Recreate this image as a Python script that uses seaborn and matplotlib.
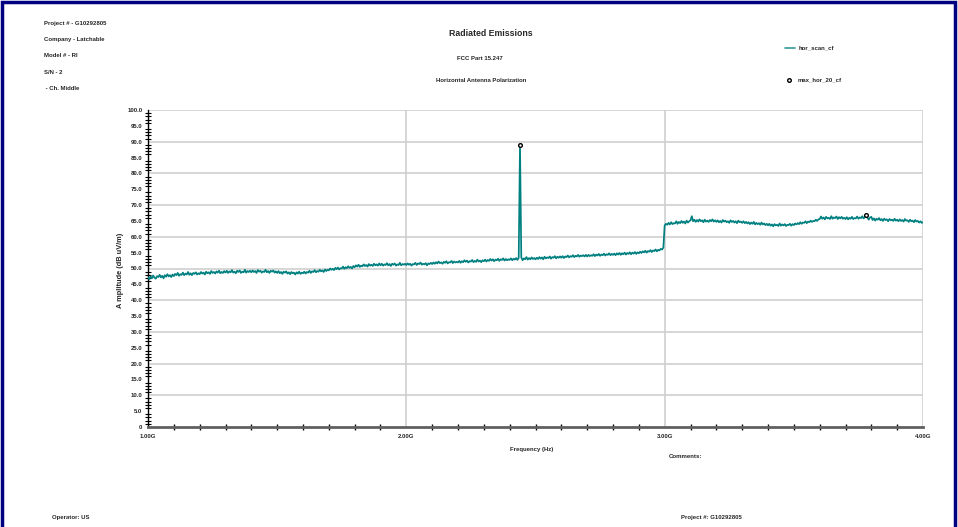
import numpy as np
import pandas as pd
import matplotlib
matplotlib.use("Agg")
import matplotlib.pyplot as plt
from matplotlib.patches import Rectangle
from matplotlib.lines import Line2D
from matplotlib.ticker import MultipleLocator, FixedLocator
import seaborn as sns

# ---- sweep data: hor_scan_cf, 5 MHz steps from 1.000 GHz to 4.000 GHz (dBuV/m) ----
# one row per 100 MHz
scan_start_ghz = 1.00
scan_step_ghz = 0.005
scan_amp = [
    47.2, 46.6, 47.5, 46.9, 47.8, 47.1, 46.8, 47.6, 47.3, 48.0, 47.2, 47.7, 46.9, 47.9, 47.4, 48.2, 47.5, 47.9, 47.3, 48.1,
    47.6, 48.3, 47.9, 48.6, 47.7, 48.2, 48.0, 48.7, 47.9, 48.4, 48.1, 48.9, 48.0, 48.5, 47.9, 48.6, 48.3, 48.8, 48.1, 48.5,
    48.2, 48.9, 48.4, 48.7, 48.1, 49.0, 48.5, 48.8, 48.3, 49.2, 48.6, 48.9, 48.4, 49.1, 48.7, 49.3, 48.5, 48.9, 48.6, 49.2,
    48.7, 49.3, 48.6, 49.1, 48.8, 49.5, 48.7, 49.0, 48.5, 49.3, 48.9, 49.4, 48.6, 49.0, 48.8, 49.6, 48.7, 49.2, 48.9, 49.3,
    48.8, 49.4, 48.9, 49.2, 48.6, 49.5, 49.0, 49.3, 48.7, 49.1, 48.9, 49.6, 48.8, 49.2, 48.6, 49.3, 49.0, 49.4, 48.7, 49.1,
    48.6, 49.2, 48.5, 48.9, 48.3, 49.0, 48.7, 49.1, 48.4, 48.8, 48.2, 48.9, 48.5, 48.7, 48.1, 48.8, 48.4, 49.0, 48.3, 48.7,
    48.5, 49.0, 48.4, 48.9, 48.7, 49.3, 48.6, 49.1, 48.9, 49.5, 48.8, 49.2, 49.0, 49.6, 49.1, 49.4, 48.9, 49.7, 49.2, 49.6,
    49.4, 50.0, 49.6, 49.9, 49.5, 50.2, 49.8, 50.3, 49.7, 50.1, 50.0, 50.6, 49.9, 50.4, 50.1, 50.7, 50.2, 50.5, 50.0, 50.8,
    50.4, 51.0, 50.6, 51.2, 50.5, 50.9, 50.7, 51.3, 50.8, 51.1, 50.6, 51.4, 50.9, 51.2, 50.8, 51.5, 51.0, 51.3, 50.9, 51.6,
    51.0, 51.5, 50.9, 51.3, 51.1, 51.7, 51.0, 51.4, 50.8, 51.5, 51.2, 51.6, 50.9, 51.3, 51.1, 51.8, 51.0, 51.4, 51.2, 51.5,
    51.1, 51.6, 51.2, 51.5, 50.9, 51.4, 51.3, 51.8, 51.1, 51.6, 51.4, 51.9, 51.2, 51.5, 51.3, 51.7, 51.0, 51.6, 51.4, 51.8,
    51.4, 51.9, 51.5, 52.0, 51.6, 52.2, 51.7, 51.9, 51.5, 52.1, 51.8, 52.3, 51.6, 52.0, 51.9, 52.4, 51.7, 52.2, 51.9, 52.1,
    51.9, 52.4, 51.8, 52.3, 52.0, 52.6, 52.1, 52.5, 51.9, 52.3, 52.2, 52.7, 52.0, 52.4, 52.1, 52.8, 52.2, 52.5, 52.0, 52.6,
    52.3, 52.8, 52.2, 52.7, 52.4, 53.0, 52.5, 52.9, 52.3, 52.8, 52.6, 53.1, 52.4, 52.9, 52.7, 53.2, 52.5, 53.0, 52.6, 52.9,
    52.7, 53.2, 52.6, 53.1, 52.8, 53.3, 52.7, 53.4, 89.0, 53.5, 52.6, 53.2, 52.9, 53.6, 52.8, 53.3, 52.9, 53.5, 53.0, 53.3,
    52.9, 53.4, 53.0, 53.6, 53.1, 53.5, 52.9, 53.7, 53.2, 53.5, 53.3, 53.8, 53.1, 53.6, 53.4, 53.9, 53.2, 53.7, 53.4, 53.8,
    53.4, 53.9, 53.3, 53.8, 53.6, 54.1, 53.5, 53.9, 53.7, 54.2, 53.6, 54.0, 53.8, 54.3, 53.7, 54.1, 53.9, 54.2, 53.8, 54.3,
    53.8, 54.3, 53.9, 54.2, 54.0, 54.5, 53.9, 54.4, 54.1, 54.6, 54.0, 54.4, 54.2, 54.7, 54.1, 54.5, 54.3, 54.8, 54.2, 54.6,
    54.3, 54.7, 54.2, 54.8, 54.4, 54.9, 54.3, 54.8, 54.5, 55.0, 54.4, 54.9, 54.6, 55.1, 54.5, 55.0, 54.7, 55.2, 54.6, 55.1,
    54.8, 55.3, 54.9, 55.4, 55.1, 55.6, 55.0, 55.5, 55.3, 55.8, 55.2, 55.7, 55.5, 56.0, 55.4, 55.9, 55.7, 56.2, 56.0, 56.6,
    63.6, 64.1, 63.8, 64.4, 63.9, 64.6, 64.0, 64.3, 64.2, 64.9, 64.1, 64.7, 64.3, 65.0, 64.4, 64.8, 64.2, 65.1, 64.5, 64.9,
    65.2, 66.5, 64.9, 65.4, 64.7, 65.3, 64.8, 65.5, 64.9, 65.2, 64.6, 65.4, 64.8, 65.1, 64.7, 65.3, 64.9, 65.5, 64.8, 65.2,
    64.7, 65.2, 64.6, 65.0, 64.5, 65.3, 64.8, 65.1, 64.6, 64.9, 64.4, 65.2, 64.7, 65.0, 64.5, 64.9, 64.3, 65.1, 64.6, 64.8,
    64.4, 64.9, 64.3, 64.7, 64.2, 64.6, 64.0, 64.5, 64.1, 64.7, 63.9, 64.4, 64.0, 64.3, 63.8, 64.5, 63.9, 64.2, 63.7, 64.1,
    63.6, 64.1, 63.5, 63.9, 63.3, 64.0, 63.6, 63.8, 63.4, 64.2, 63.5, 63.9, 63.6, 64.0, 63.4, 63.8, 63.7, 64.1, 63.5, 64.0,
    63.7, 64.2, 63.9, 64.3, 64.0, 64.6, 64.1, 64.5, 64.4, 64.9, 64.3, 64.8, 64.6, 65.1, 64.7, 65.0, 64.9, 65.4, 65.0, 65.5,
    65.6, 66.4, 65.7, 66.1, 65.5, 66.3, 65.8, 66.0, 65.6, 66.5, 65.7, 66.1, 65.9, 66.4, 65.6, 66.2, 65.8, 66.3, 65.7, 66.0,
    65.6, 66.2, 65.5, 66.0, 65.7, 66.3, 65.6, 65.9, 65.8, 66.4, 65.7, 66.1, 65.9, 66.5, 65.8, 66.2, 67.0, 66.0, 65.4, 66.1,
    66.3, 65.3, 65.8, 65.1, 65.7, 65.4, 65.9, 65.2, 65.6, 65.0, 65.7, 65.3, 65.5, 64.9, 65.6, 65.2, 65.4, 65.0, 65.7, 65.1,
    65.4, 64.9, 65.5, 65.0, 65.3, 64.8, 65.6, 65.1, 65.2, 64.7, 65.4, 64.9, 65.1, 64.6, 65.3, 64.8, 65.0, 64.5, 64.9, 64.4,
    64.6,
]
scan_freq = np.round(scan_start_ghz + scan_step_ghz * np.arange(len(scan_amp)), 4)

# ---- max_hor_20_cf peak markers ----
peak_freq = [2.44, 3.78]
peak_amp = [89.0, 67.0]

# ---- axis ticks ----
x_major = [1.0, 2.0, 3.0, 4.0]
x_tick_labels = ["1.00G", "2.00G", "3.00G", "4.00G"]
y_major = list(range(0, 101, 5))
y_tick_labels = ["0"] + [f"{v:.1f}" for v in y_major[1:]]

header_lines = ["Project # - G10292805", "Company - Latchable", "Model # - RI",
                "S/N - 2", " - Ch. Middle"]

scan_df = pd.DataFrame({"freq": scan_freq, "amp": scan_amp})
peak_df = pd.DataFrame({"freq": peak_freq, "amp": peak_amp})

sns.set_theme(style="white")
FONT = ["Liberation Sans Narrow", "Liberation Sans", "DejaVu Sans"]
plt.rcParams["font.family"] = FONT

W, H = 958, 527
fig = plt.figure(figsize=(W / 100, H / 100), dpi=100)
fig.patch.set_facecolor("white")


def fx(px):
    return px / W


def fy(py):
    return 1 - py / H


ax = fig.add_axes([fx(148), fy(427), fx(923) - fx(148), fy(110) - fy(427)])
ax.set_facecolor("white")

TEAL = "#008080"
sns.lineplot(data=scan_df, x="freq", y="amp", ax=ax, color=TEAL, lw=1.25,
             estimator=None, sort=False, legend=False, zorder=3)
sns.scatterplot(data=peak_df, x="freq", y="amp", ax=ax, marker="o", s=7,
                facecolor="white", edgecolor="black", linewidth=1.0,
                legend=False, zorder=4)

ax.set_xlim(1.0, 4.0)
ax.set_ylim(0, 100)

# grid
for v in range(10, 101, 10):
    ax.axhline(v, color="#cfcfcf", lw=1.2, zorder=1)
for v in x_major[1:]:
    ax.axvline(v, color="#cfcfcf", lw=1.2, zorder=1)

for s in ["top", "right"]:
    ax.spines[s].set_visible(False)
ax.spines["left"].set_color("black")
ax.spines["left"].set_linewidth(1.0)
ax.spines["bottom"].set_color("#606060")
ax.spines["bottom"].set_linewidth(2.0)

ax.yaxis.set_major_locator(FixedLocator(y_major))
ax.set_yticklabels(y_tick_labels)
ax.yaxis.set_minor_locator(MultipleLocator(1))
ax.xaxis.set_major_locator(FixedLocator(x_major))
ax.set_xticklabels(x_tick_labels)
ax.xaxis.set_minor_locator(MultipleLocator(0.1))

ax.tick_params(axis="y", which="major", direction="inout", length=6, width=1.0,
               color="black", labelsize=4.3, pad=1)
ax.tick_params(axis="y", which="minor", direction="inout", length=4, width=0.8,
               color="black", left=True)
ax.tick_params(axis="x", which="major", direction="inout", length=6, width=1.0,
               color="black", labelsize=4.3, pad=2)
ax.tick_params(axis="x", which="minor", direction="inout", length=5, width=1.0,
               color="black", bottom=True)
for lab in ax.get_xticklabels() + ax.get_yticklabels():
    lab.set_fontweight("bold")

ax.set_xlabel("")
ax.set_ylabel("")

SMALL = 4.3

# axis titles
fig.text(fx(121), fy(270), "A mplitude (dB uV/m)", rotation=90, ha="center",
         va="center", fontsize=5.3, fontweight="bold")
fig.text(fx(532), fy(449), "Frequency (Hz)", ha="center", va="center",
         fontsize=SMALL, fontweight="bold")
fig.text(fx(685), fy(456), "Comments:", ha="center", va="center",
         fontsize=SMALL, fontweight="bold")

# titles
fig.text(fx(491), fy(33), "Radiated Emissions", ha="center", va="center",
         fontsize=6.3, fontweight="bold")
fig.text(fx(480), fy(58), "FCC Part 15.247", ha="center", va="center",
         fontsize=SMALL, fontweight="bold")
fig.text(fx(481), fy(80), "Horizontal Antenna Polarization", ha="center",
         va="center", fontsize=SMALL, fontweight="bold")

# header block
for i, line in enumerate(header_lines):
    fig.text(fx(44), fy(24 + i * 16), line, ha="left", va="center",
             fontsize=SMALL, fontweight="bold")

# footer
fig.text(fx(52), fy(517), "Operator: US", ha="left", va="center",
         fontsize=SMALL, fontweight="bold")
fig.text(fx(681), fy(517), "Project #: G10292805", ha="left", va="center",
         fontsize=SMALL, fontweight="bold")

# legend
fig.add_artist(Line2D([fx(785), fx(795)], [fy(48), fy(48)], color=TEAL, lw=1.2,
                      alpha=0.8))
fig.text(fx(799), fy(48), "hor_scan_cf", ha="left", va="center", fontsize=SMALL,
         fontweight="bold")
fig.add_artist(Line2D([fx(789)], [fy(80)], marker="o", markersize=2.6,
                      markerfacecolor="white", markeredgecolor="black",
                      markeredgewidth=1.0, lw=0))
fig.text(fx(798), fy(80), "max_hor_20_cf", ha="left", va="center",
         fontsize=SMALL, fontweight="bold")

# page frame
fig.add_artist(Rectangle((fx(2), fy(H + 10)), fx(953), fy(2) - fy(H + 10),
                         fill=False, edgecolor="#000080", lw=2.5,
                         transform=fig.transFigure))

fig.savefig("out.png", dpi=100, facecolor="white")
